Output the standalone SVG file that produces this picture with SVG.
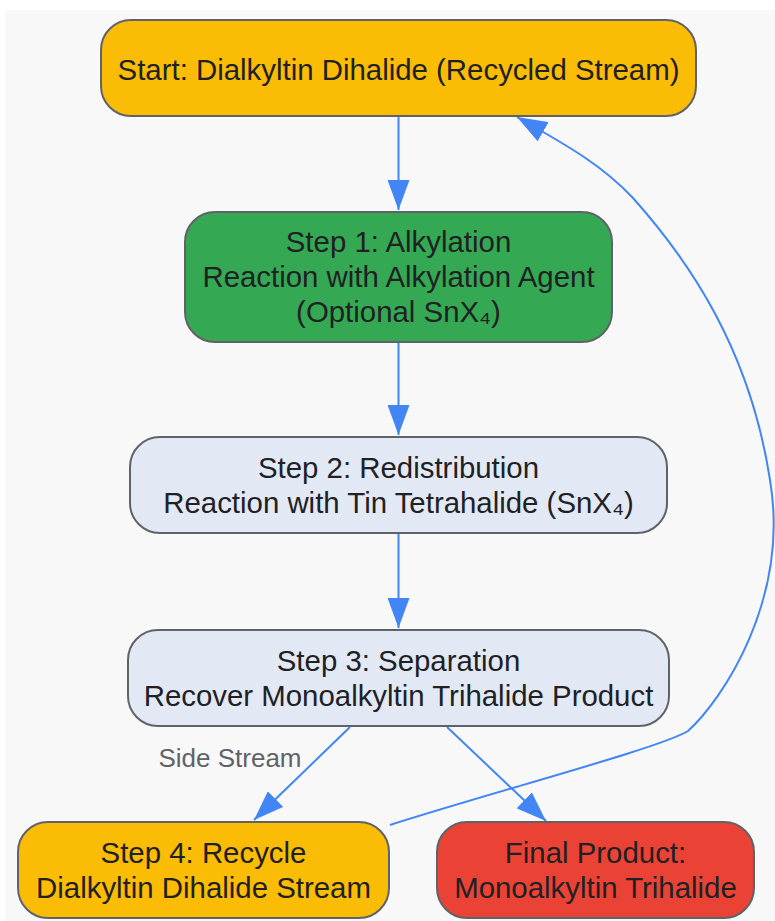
<svg xmlns="http://www.w3.org/2000/svg" width="775" height="921" viewBox="0 0 775 921">
<style>
.node rect{stroke:#5f6368;stroke-width:2}
.node text{font-family:"Liberation Sans",Arial,sans-serif;font-size:29.4px;fill:#202124;text-anchor:middle}
.edge{fill:none;stroke:#4285f4;stroke-width:2}
.lbl{font-family:"Liberation Sans",Arial,sans-serif;font-size:26px;fill:#5f6368;text-anchor:middle}
</style>
<defs>
<marker id="ah" markerUnits="userSpaceOnUse" markerWidth="30" markerHeight="22" refX="30" refY="11" orient="auto" viewBox="0 0 30 22">
<path d="M0,0 L30,11 L0,22 z" fill="#4285f4"/>
</marker>
</defs>
<rect x="0" y="0" width="775" height="921" fill="#ffffff"/>
<rect x="5" y="10" width="770" height="911" fill="#f8f8f8"/>
<g id="connectors">
<path class="edge" d="M398.5,117 L398.5,210" marker-end="url(#ah)"/>
<path class="edge" d="M398.5,343 L398.5,435" marker-end="url(#ah)"/>
<path class="edge" d="M398.5,534 L398.5,628" marker-end="url(#ah)"/>
<path class="edge" d="M350,727 L254,820" marker-end="url(#ah)"/>
<path class="edge" d="M447,727 L546,821" marker-end="url(#ah)"/>
<path class="edge" d="M390,825 C500,790 660,748 688,731 C722,700 790,600 770,480 C750,350 690,262 633,198 C603,166 570,147 517,117" marker-end="url(#ah)"/>
<text class="lbl" x="230" y="767">Side Stream</text>
</g>
<g id="start" class="node">
<rect x="101" y="20" width="595" height="96" rx="30" fill="#fbbc05"/>
<text x="398.5" y="80">Start: Dialkyltin Dihalide (Recycled Stream)</text>
</g>
<g id="step1" class="node">
<rect x="185" y="212" width="427" height="130" rx="30" fill="#34a853"/>
<text x="398.5" y="252">Step 1: Alkylation</text>
<text x="398.5" y="287">Reaction with Alkylation Agent</text>
<text x="398.5" y="322">(Optional SnX₄)</text>
</g>
<g id="step2" class="node">
<rect x="130" y="437" width="537" height="96" rx="30" fill="#e3e9f4"/>
<text x="398.5" y="478">Step 2: Redistribution</text>
<text x="398.5" y="513">Reaction with Tin Tetrahalide (SnX₄)</text>
</g>
<g id="step3" class="node">
<rect x="128" y="630" width="541" height="96" rx="30" fill="#e3e9f4"/>
<text x="398.5" y="671">Step 3: Separation</text>
<text x="398.5" y="706">Recover Monoalkyltin Trihalide Product</text>
</g>
<g id="step4" class="node">
<rect x="18" y="822" width="371" height="96" rx="30" fill="#fbbc05"/>
<text x="203.5" y="863">Step 4: Recycle</text>
<text x="203.5" y="898">Dialkyltin Dihalide Stream</text>
</g>
<g id="final" class="node">
<rect x="437" y="822" width="317" height="96" rx="30" fill="#ea4335"/>
<text x="595.5" y="863">Final Product:</text>
<text x="595.5" y="898">Monoalkyltin Trihalide</text>
</g>
</svg>
